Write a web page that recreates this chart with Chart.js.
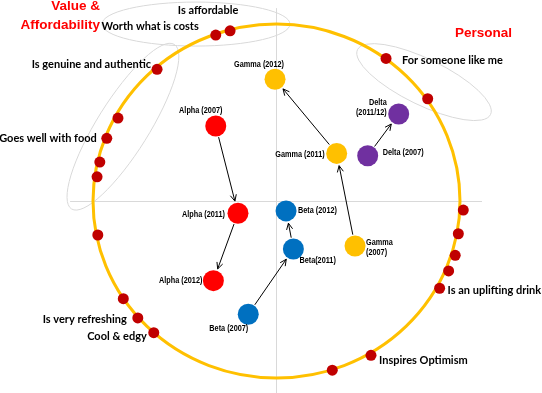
<!DOCTYPE html>
<html>
<head>
<meta charset="utf-8">
<script src="https://cdn.jsdelivr.net/npm/chart.js@4"></script>
<style>
  html, body { margin: 0; padding: 0; background: #fff; }
  canvas { display: block; }
</style>
</head>
<body>
<canvas id="myChart" width="542" height="393"></canvas>
<script>
// Atributos sobre el círculo (puntos rojo oscuro)
const attrX = [-0.331, -0.253, -0.651, -0.864, -0.925, -0.963, -0.978, -0.974, -0.835, -0.756, -0.669,
               1.018, 0.991, 0.974, 0.938, 0.889, 0.515, 0.304, 0.597, 0.824];
const attrY = [0.938, 0.962, 0.744, 0.469, 0.354, 0.220, 0.137, -0.192, -0.552, -0.661, -0.744,
               -0.051, -0.185, -0.307, -0.395, -0.493, -0.872, -0.956, 0.806, 0.578];
const attrLabels = ['Worth what is costs', 'Is affordable', 'Is genuine and authentic', '', 'Goes well with food', '', '', '', '',
                    'Is very refreshing', 'Cool & edgy', '', '', '', '', 'Is an uplifting drink', 'Inspires Optimism', '',
                    'For someone like me', ''];

// Marcas por año
const alphaX = [-0.331, -0.210, -0.344];
const alphaY = [0.424, -0.069, -0.450];
const alphaLabels = ['Alpha (2007)', 'Alpha (2011)', 'Alpha (2012)'];

const betaX = [-0.154, 0.092, 0.052];
const betaY = [-0.640, -0.271, -0.056];
const betaLabels = ['Beta (2007)', 'Beta(2011)', 'Beta (2012)'];

const gammaX = [0.428, 0.328, -0.008];
const gammaY = [-0.254, 0.269, 0.688];
const gammaLabels = ['Gamma\n(2007)', 'Gamma (2011)', 'Gamma (2012)'];

const deltaX = [0.497, 0.666];
const deltaY = [0.256, 0.492];
const deltaLabels = ['Delta (2007)', 'Delta\n(2011/12)'];

// Colocación de etiquetas (px relativos al punto)
const labelPlace = {
  'Worth what is costs': { dx: -17, dy: -9, align: 'right' },
  'Is affordable': { dx: -22, dy: -20, align: 'center' },
  'Is genuine and authentic': { dx: -6, dy: -5, align: 'right' },
  'Goes well with food': { dx: -10, dy: 0, align: 'right' },
  'Is very refreshing': { dx: -11, dy: 1, align: 'right' },
  'Cool & edgy': { dx: -7, dy: 4, align: 'right' },
  'Is an uplifting drink': { dx: 8, dy: 2, align: 'left' },
  'Inspires Optimism': { dx: 8, dy: 5, align: 'left' },
  'For someone like me': { dx: 16, dy: 2, align: 'left' },
  'Alpha (2007)': { dx: -15, dy: -15, align: 'center' },
  'Alpha (2011)': { dx: -13, dy: 1, align: 'right' },
  'Alpha (2012)': { dx: -11, dy: 0, align: 'right' },
  'Beta (2007)': { dx: 0, dy: 14, align: 'right' },
  'Beta(2011)': { dx: 6, dy: 12, align: 'left' },
  'Beta (2012)': { dx: 12, dy: 0, align: 'left' },
  'Gamma\n(2007)': { dx: 11, dy: -3, align: 'left' },
  'Gamma (2011)': { dx: -12, dy: 1, align: 'right' },
  'Gamma (2012)': { dx: -16, dy: -15, align: 'center' },
  'Delta (2007)': { dx: 15, dy: -3, align: 'left' },
  'Delta\n(2011/12)': { dx: -12, dy: -11, align: 'right' }
};

function pts(xs, ys) {
  return xs.map((v, i) => ({ x: v, y: ys[i] }));
}

const brandFont = "bold 9px 'Liberation Sans', Arial, sans-serif";
const brandSquash = 0.81; // letra estrecha
const attrFont = "bold 11px Lato, 'Noto Sans', sans-serif";

const mapPlugin = {
  id: 'perceptualMap',
  beforeDatasetsDraw(chart) {
    const ctx = chart.ctx;
    const xs = chart.scales.x, ys = chart.scales.y;
    const cx = xs.getPixelForValue(0), cy = ys.getPixelForValue(0);
    ctx.save();
    // ejes grises
    ctx.strokeStyle = '#D9D9D9';
    ctx.lineWidth = 1;
    ctx.beginPath();
    ctx.moveTo(xs.getPixelForValue(-1.125), Math.round(cy) + 0.5);
    ctx.lineTo(xs.getPixelForValue(1.12), Math.round(cy) + 0.5);
    ctx.moveTo(Math.round(cx) - 0.5, ys.getPixelForValue(1.09));
    ctx.lineTo(Math.round(cx) - 0.5, chart.height);
    ctx.stroke();
    // elipses de agrupación
    const ellipses = [
      { x: -0.439, y: 1.0, rx: 94, ry: 22, rot: 0 },
      { x: -0.837, y: 0.420, rx: 97, ry: 26, rot: -58 },
      { x: 0.804, y: 0.672, rx: 74, ry: 23, rot: 26 }
    ];
    ellipses.forEach(e => {
      ctx.beginPath();
      ctx.ellipse(xs.getPixelForValue(e.x), ys.getPixelForValue(e.y), e.rx, e.ry, e.rot * Math.PI / 180, 0, Math.PI * 2);
      ctx.stroke();
    });
    // círculo naranja
    ctx.strokeStyle = '#FFC000';
    ctx.lineWidth = 3;
    ctx.beginPath();
    ctx.ellipse(cx, cy, xs.getPixelForValue(1) - cx, cy - ys.getPixelForValue(1), 0, 0, Math.PI * 2);
    ctx.stroke();
    ctx.restore();
  },
  afterDatasetsDraw(chart) {
    const ctx = chart.ctx;
    ctx.save();
    // flechas entre años
    ctx.strokeStyle = '#000';
    ctx.lineWidth = 1;
    chart.data.datasets.forEach((ds, di) => {
      if (!ds.arrows) return;
      const meta = chart.getDatasetMeta(di);
      for (let i = 0; i < meta.data.length - 1; i++) {
        const a = meta.data[i], b = meta.data[i + 1];
        const ang = Math.atan2(b.y - a.y, b.x - a.x);
        const r = ds.pointRadius;
        const x1 = a.x + Math.cos(ang) * (r + 1), y1 = a.y + Math.sin(ang) * (r + 1);
        const x2 = b.x - Math.cos(ang) * (r + 2), y2 = b.y - Math.sin(ang) * (r + 2);
        ctx.beginPath();
        ctx.moveTo(x1, y1);
        ctx.lineTo(x2, y2);
        ctx.moveTo(x2 - Math.cos(ang - 0.45) * 7, y2 - Math.sin(ang - 0.45) * 7);
        ctx.lineTo(x2, y2);
        ctx.lineTo(x2 - Math.cos(ang + 0.45) * 7, y2 - Math.sin(ang + 0.45) * 7);
        ctx.stroke();
      }
    });
    // etiquetas
    ctx.textBaseline = 'middle';
    ctx.fillStyle = '#000';
    chart.data.datasets.forEach((ds, di) => {
      const meta = chart.getDatasetMeta(di);
      const sx = ds.arrows ? brandSquash : 1;
      ctx.font = ds.arrows ? brandFont : attrFont;
      meta.data.forEach((el, i) => {
        const txt = ds.labels[i];
        if (!txt) return;
        const p = labelPlace[txt] || { dx: 8, dy: 0, align: 'left' };
        ctx.textAlign = p.align;
        txt.split('\n').forEach((line, k) => {
          ctx.save();
          ctx.translate(el.x + p.dx, el.y + p.dy + k * 10);
          ctx.scale(sx, 1);
          ctx.fillText(line, 0, 0);
          ctx.restore();
        });
      });
    });
    // títulos de cuadrante
    ctx.fillStyle = '#FF0000';
    ctx.font = "bold 13.5px 'Liberation Sans', Arial, sans-serif";
    ctx.textAlign = 'right';
    ctx.fillText('Value &', 100, 6);
    ctx.fillText('Affordability', 100, 25);
    ctx.textAlign = 'left';
    ctx.fillText('Personal', 455, 33);
    ctx.restore();
  }
};

const ctx = document.getElementById('myChart').getContext('2d');
const myChart = new Chart(ctx, {
  type: 'scatter',
  data: {
    datasets: [
      { label: 'Alpha', data: pts(alphaX, alphaY), labels: alphaLabels, arrows: true,
        backgroundColor: '#FF0000', borderWidth: 0, pointRadius: 10.5 },
      { label: 'Beta', data: pts(betaX, betaY), labels: betaLabels, arrows: true,
        backgroundColor: '#0070C0', borderWidth: 0, pointRadius: 10.5 },
      { label: 'Gamma', data: pts(gammaX, gammaY), labels: gammaLabels, arrows: true,
        backgroundColor: '#FFC000', borderWidth: 0, pointRadius: 10.5 },
      { label: 'Delta', data: pts(deltaX, deltaY), labels: deltaLabels, arrows: true,
        backgroundColor: '#7030A0', borderWidth: 0, pointRadius: 10.5 },
      { label: 'Atributos', data: pts(attrX, attrY), labels: attrLabels,
        backgroundColor: '#C00000', borderWidth: 0, pointRadius: 5.5 }
    ]
  },
  options: {
    responsive: false,
    animation: false,
    events: [],
    layout: { padding: 0, autoPadding: false },
    plugins: { legend: { display: false }, tooltip: { enabled: false } },
    scales: {
      x: { type: 'linear', min: -1.507, max: 1.447, display: false },
      y: { type: 'linear', min: -1.085, max: 1.136, display: false }
    }
  },
  plugins: [mapPlugin]
});
</script>
</body>
</html>
